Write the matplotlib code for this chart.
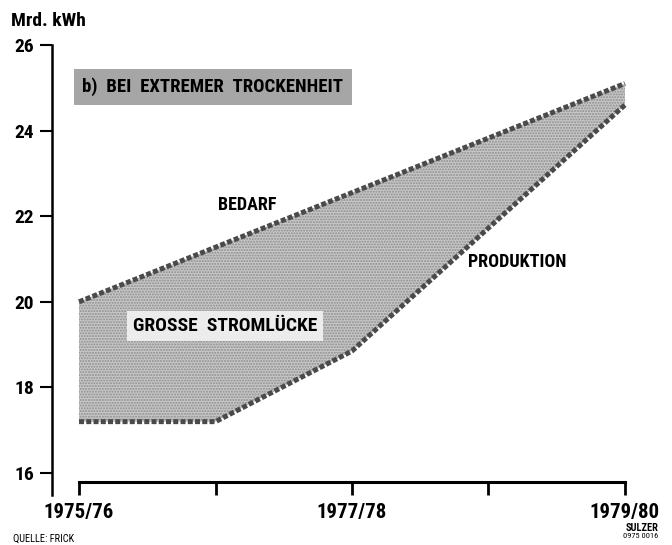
import matplotlib
matplotlib.use("Agg")
import matplotlib.pyplot as plt
import numpy as np

# ---- data ----
x_labels = ["1975/76", "", "1977/78", "", "1979/80"]
x_pos = [0, 1, 2, 3, 4]
bedarf_x = [0, 4]
bedarf_y = [20.0, 25.1]
prod_x = [0, 1, 2, 4]
prod_y = [17.2, 17.2, 18.85, 24.6]
y_ticks = [16, 18, 20, 22, 24, 26]

FONT = ["Roboto Condensed", "DejaVu Sans"]
plt.rcParams["font.family"] = FONT

fig = plt.figure(figsize=(6.72, 5.45), dpi=100)
fig.patch.set_facecolor("white")
ax = fig.add_axes([52/672, 50/545, (638.6-52)/672, 450/545])
ax.set_xlim(-0.198, 4.1)
ax.set_ylim(15.486, 26)

xs = sorted(set(bedarf_x + prod_x))
b_interp = np.interp(xs, bedarf_x, bedarf_y)
p_interp = np.interp(xs, prod_x, prod_y)
ax.fill_between(xs, p_interp, b_interp, facecolor="#c8c8c8", edgecolor="#8c8c8c",
                hatch="......", linewidth=0, zorder=1)

ax.plot(bedarf_x, bedarf_y, color="#4a4a4a", lw=3.6, dashes=(1.0, 0.45),
        dash_capstyle="butt", zorder=3)
ax.plot(prod_x, prod_y, color="#4a4a4a", lw=3.6, dashes=(1.0, 0.45),
        dash_capstyle="butt", zorder=3)

for s in ["top", "right"]:
    ax.spines[s].set_visible(False)
ax.spines["left"].set_bounds(15.486, 26)
ax.spines["left"].set_linewidth(1.8)
ax.spines["bottom"].set_position(("data", 15.79))
ax.spines["bottom"].set_bounds(0, 4)
ax.spines["bottom"].set_linewidth(2.2)

ax.set_yticks(y_ticks)
ax.set_yticklabels([str(v) for v in y_ticks], fontsize=14, fontweight="bold")
ax.set_xticks(x_pos)
ax.set_xticklabels(x_labels, fontsize=15, fontweight="bold")
ax.tick_params(axis="y", direction="out", length=9, width=1.5, pad=4)
ax.tick_params(axis="x", direction="out", length=9, width=2.0, pad=6)

ax.text(0.98, 25.02, "b)  BEI  EXTREMER  TROCKENHEIT", fontsize=13.5, fontweight="bold",
        ha="center", va="center", zorder=5,
        bbox=dict(boxstyle="square,pad=0.45", facecolor="#a6a6a6", edgecolor="none"))
ax.text(1.23, 22.26, "BEDARF", fontsize=13, fontweight="bold", ha="center", va="center")
ax.text(3.21, 20.93, "PRODUKTION", fontsize=13, fontweight="bold", ha="center", va="center")
ax.text(1.07, 19.43, "GROSSE  STROMLÜCKE", fontsize=14, fontweight="bold",
        ha="center", va="center", zorder=5,
        bbox=dict(boxstyle="square,pad=0.3", facecolor="#ececec", edgecolor="none"))

fig.text(11/672, 1-21/545, "Mrd. kWh", fontsize=14, fontweight="bold", ha="left", va="center")
fig.text(13/672, 1-539/545, "QUELLE: FRICK", fontsize=7.5, ha="left", va="center")
fig.text(658/672, 1-528/545, "SULZER", fontsize=7.5, fontweight="bold", ha="right", va="center")
fig.text(658/672, 1-536.5/545, "0975 0016", fontsize=6, ha="right", va="center")

fig.savefig("out.png", dpi=100, facecolor="white")
